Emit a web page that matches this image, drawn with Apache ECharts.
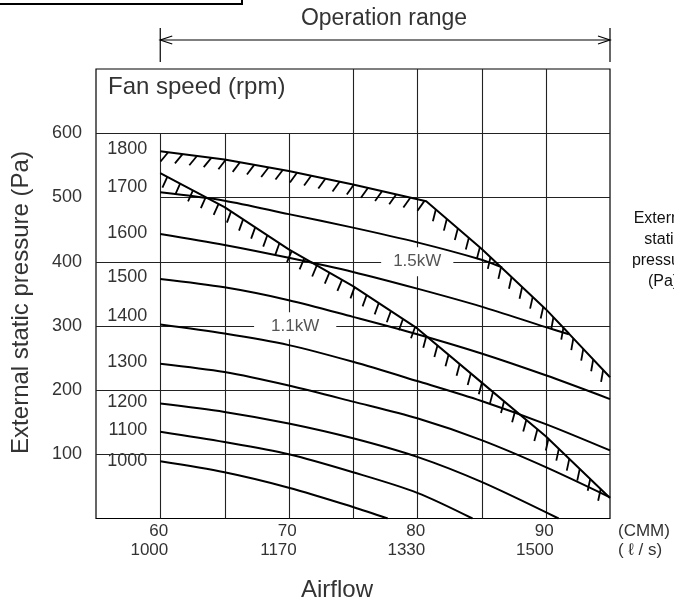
<!DOCTYPE html>
<html><head><meta charset="utf-8">
<script src="https://cdn.jsdelivr.net/npm/echarts@6/dist/echarts.min.js"></script>
<style>html,body{margin:0;padding:0;background:#fff}#c{width:674px;height:603px}</style>
</head><body><div id="c"></div>
<script>
// ---- data (x = airflow CMM, y = external static pressure Pa) ----
const rpmNames = ['1800','1700','1600','1500','1400','1300','1200','1100','1000'];
const rpm1800 = [[60,572],[65,559],[70,541],[75,520],[80.7,494],[85,420],[90,326],[91.8,288],[95,220]];
const rpm1700 = [[60,508],[65,495],[70,474],[75,453],[80,430],[85,403],[86.6,391]];
const rpm1600 = [[60,443],[65,426],[70,406],[75,384],[80,358],[85,330],[90,298],[91.8,287]];
const rpm1500 = [[60,373],[65,360],[70,340],[75,314],[80,287],[85,257],[90,223],[95,186]];
const rpm1400 = [[60,302],[65,288],[70,270],[75,244],[80,214],[85,183],[90,147],[95,106]];
const rpm1300 = [[60,241],[65,228],[70,207],[75,182],[80,156],[85,122],[90,80],[95,33]];
const rpm1200 = [[60,179],[65,166],[70,148],[75,125],[80,96],[85,57],[91,0]];
const rpm1100 = [[60,135],[65,119],[70,100],[75,72],[80,40],[84.3,0]];
const rpm1000 = [[60,89],[65,72],[70,48],[75,18],[77.7,0]];
const limit11kW = [[60,538],[65,485],[70,419],[75,362],[80,296],[85,212],[90,128],[95,32]];
const powerNames = ['1.1kW','1.5kW'];
const powerPoints = [[70.5,300],[80,400]];
const xTickCMM = [60,70,80,90];
const xTickLs = ['1000','1170','1330','1500'];
const yTicks = [100,200,300,400,500,600];

const curves = [rpm1800,rpm1700,rpm1600,rpm1500,rpm1400,rpm1300,rpm1200,rpm1100,rpm1000];
const FONT = '"Liberation Sans", Arial, sans-serif';
const labelDy = {'1800':-2,'1700':-5,'1600':-1,'1500':-2,'1400':-9,'1300':-2,'1200':-2,'1100':-2,'1000':0};

const chart = echarts.init(document.getElementById('c'), null, {renderer:'canvas'});

function hatchSeries(line){
  return {
    type:'custom', coordinateSystem:'cartesian2d', data:line, z:4, silent:true, clip:false,
    renderItem:(params, api)=>{
      if (params.dataIndex !== 0) return null;
      const pts = line.map(p=>api.coord(p));
      const children=[]; const step=14.5, L=12; let next=8, acc=0;
      for (let i=0;i<pts.length-1;i++){
        const [x1,y1]=pts[i],[x2,y2]=pts[i+1];
        const dx=x2-x1, dy=y2-y1, len=Math.hypot(dx,dy);
        const th=Math.atan2(dy,dx)*180/Math.PI;
        const phi=(135-0.75*th)*Math.PI/180;
        while (next <= acc+len){
          const t=(next-acc)/len; const px=x1+dx*t, py=y1+dy*t;
          children.push({type:'line', shape:{x1:px,y1:py,x2:px+L*Math.cos(phi),y2:py+L*Math.sin(phi)},
            style:{stroke:'#000',lineWidth:1.8}});
          next+=step;
        }
        acc+=len;
      }
      return {type:'group', children};
    }
  };
}

const series = [];
// grid lines
series.push({
  type:'custom', coordinateSystem:'cartesian2d', data:[[55,0]], z:1, silent:true,
  renderItem:(params, api)=>{
    const ch=[]; const st={stroke:'#222',lineWidth:1.1};
    for (let x=60;x<95;x+=5){
      const top = x<75?600:700;
      const a=api.coord([x,0]), b=api.coord([x,top]);
      const px=Math.round(a[0])+0.5;
      ch.push({type:'line',shape:{x1:px,y1:a[1],x2:px,y2:b[1]},style:st});
    }
    for (const y of yTicks){
      const left = y===500?60:55;
      const a=api.coord([left,y]), b=api.coord([95,y]);
      const py=Math.round(a[1])+0.5;
      ch.push({type:'line',shape:{x1:a[0],y1:py,x2:b[0],y2:py},style:st});
    }
    return {type:'group',children:ch};
  }
});
curves.forEach((c,i)=>{
  series.push({type:'line', name:rpmNames[i], data:c, showSymbol:false, symbol:'none',
    smooth: (i===0)?false:0.3, lineStyle:{color:'#000',width:2}, z:3, silent:true, animation:false});
});
series.push({type:'line', name:'1.1kW limit', data:limit11kW, showSymbol:false, symbol:'none',
  smooth:false, lineStyle:{color:'#000',width:2}, z:3, silent:true, animation:false});
series.push(hatchSeries(rpm1800));
series.push(hatchSeries(limit11kW));
// fan speed labels
series.push({type:'scatter', symbolSize:0, z:2, silent:true, itemStyle:{opacity:1},
  data: curves.map((c,i)=>({value:c[0], name:rpmNames[i],
    label:{show:true, position:'left', distance:13, offset:[0,labelDy[rpmNames[i]]], formatter:rpmNames[i],
      fontSize:18, color:'#333', opacity:1, fontFamily:FONT}}))});
// power labels
series.push({type:'scatter', symbolSize:0, z:2, silent:true, itemStyle:{opacity:1},
  data: powerPoints.map((p,i)=>({value:p, name:powerNames[i],
    label:{show:true, position:'inside', formatter:powerNames[i], fontSize:17, color:'#555', opacity:1, fontFamily:FONT,
      backgroundColor:'#fff', padding: i===0?[5,17]:[6,12]}}))});

chart.setOption({
  animation:false,
  textStyle:{fontFamily:FONT},
  grid:{left:96, top:69, width:514, height:449.5, show:true, borderColor:'#000', borderWidth:1.2},
  xAxis:{type:'value', min:55, max:95, interval:5,
    axisLine:{show:false}, axisTick:{show:false}, splitLine:{show:false},
    axisLabel:{fontSize:17, color:'#333', lineHeight:18.5, align:'right', padding:[0,-8,0,0], margin:4,
      formatter:v=>{const i=xTickCMM.indexOf(v); return i<0?'':v+'\n'+xTickLs[i];}}},
  yAxis:{type:'value', min:0, max:700, interval:100,
    axisLine:{show:false}, axisTick:{show:false}, splitLine:{show:false},
    axisLabel:{fontSize:18, color:'#333', margin:14, padding:[0,0,8,0],
      formatter:v=>yTicks.includes(v)?String(v):''}},
  series
});

const x60 = chart.convertToPixel({xAxisIndex:0},60);
const x95 = chart.convertToPixel({xAxisIndex:0},95);
const ay = 40, ast={stroke:'#000',lineWidth:1.2,fill:null};
chart.setOption({graphic:[
  {type:'rect', shape:{x:-2,y:-10,width:244,height:14}, style:{fill:'#fff',stroke:'#000',lineWidth:2}},
  {type:'text', x:384, y:19, style:{text:'Operation range', font:'23px '+FONT, fill:'#333', align:'center', verticalAlign:'middle'}},
  {type:'line', shape:{x1:x60,y1:28,x2:x60,y2:62}, style:ast},
  {type:'line', shape:{x1:x95,y1:28,x2:x95,y2:62}, style:ast},
  {type:'line', shape:{x1:x60,y1:ay,x2:x95,y2:ay}, style:ast},
  {type:'polyline', shape:{points:[[x60+12,ay-4],[x60,ay],[x60+12,ay+4]]}, style:ast},
  {type:'polyline', shape:{points:[[x95-12,ay-4],[x95,ay],[x95-12,ay+4]]}, style:ast},
  {type:'text', x:108, y:87, style:{text:'Fan speed (rpm)', font:'24px '+FONT, fill:'#333', align:'left', verticalAlign:'middle'}},
  {type:'text', x:21.7, y:302.5, rotation:Math.PI/2, style:{text:'External static pressure (Pa)', font:'24px '+FONT, fill:'#333', align:'center', verticalAlign:'middle'}},
  {type:'text', x:337, y:590, style:{text:'Airflow', font:'24px '+FONT, fill:'#333', align:'center', verticalAlign:'middle'}},
  {type:'text', x:618, y:522.5, style:{text:'(CMM)\n( \u2113 / s)', font:'17px '+FONT, lineHeight:18.5, fill:'#333', align:'left', verticalAlign:'top'}},
  {type:'text', x:663, y:208.5, style:{text:'External\nstatic\npressure\n(Pa)', font:'16px '+FONT, lineHeight:21, fill:'#111', align:'center', verticalAlign:'top'}}
]});
</script></body></html>
